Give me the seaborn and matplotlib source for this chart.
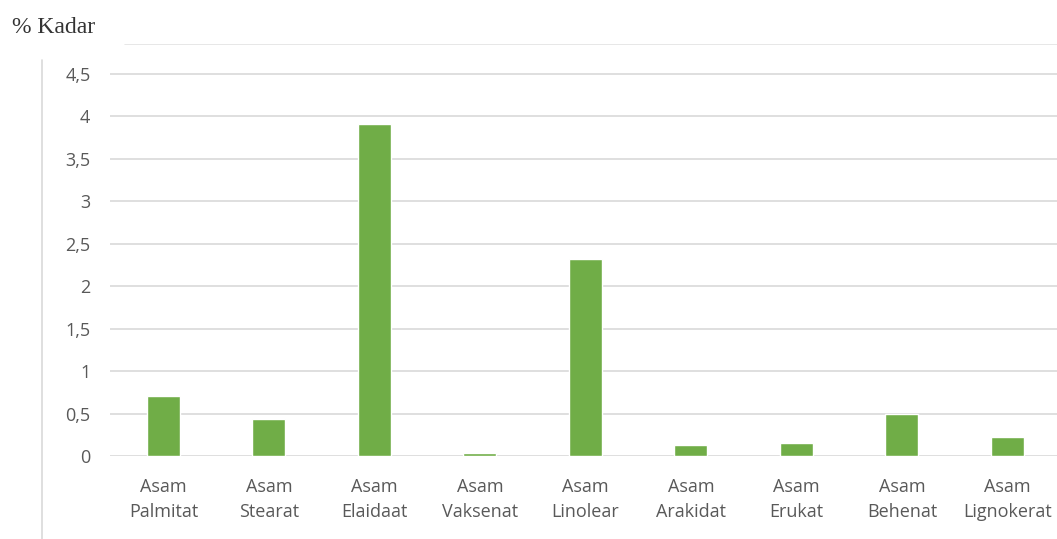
import pandas as pd
import seaborn as sns
import matplotlib.pyplot as plt
from matplotlib.lines import Line2D

# data
asam = ["Asam\nPalmitat", "Asam\nStearat", "Asam\nElaidaat", "Asam\nVaksenat", "Asam\nLinolear",
        "Asam\nArakidat", "Asam\nErukat", "Asam\nBehenat", "Asam\nLignokerat"]
kadar = [0.71, 0.44, 3.91, 0.04, 2.32, 0.13, 0.15, 0.50, 0.22]
yticks = [0, 0.5, 1, 1.5, 2, 2.5, 3, 3.5, 4, 4.5]
ytick_labels = ["0", "0,5", "1", "1,5", "2", "2,5", "3", "3,5", "4", "4,5"]

df = pd.DataFrame({"asam": asam, "kadar": kadar})

sns.set_style("white")
plt.rcParams["font.family"] = ["Open Sans", "DejaVu Sans"]

fig = plt.figure(figsize=(10.57, 5.39), dpi=100)
ax = fig.add_axes([0.104, 0.154, 0.896, 0.764])

sns.barplot(data=df, x="asam", y="kadar", color="#70AD47", width=0.313, saturation=1, ax=ax, zorder=3)

ax.set_ylim(0, 4.85)
ax.set_xlim(-0.507, 8.47)
ax.set_yticks(yticks)
ax.set_yticklabels(ytick_labels)
for y in yticks:
    ax.axhline(y, color="#D9D9D9", lw=1.2, zorder=1)
ax.axhline(4.85, xmin=0.016, color="#E3E3E3", lw=1.2, zorder=1)

ax.set_xlabel("")
ax.set_ylabel("")
ax.tick_params(axis="both", length=0, colors="#595959", labelsize=13)
ax.tick_params(axis="y", pad=14)
ax.tick_params(axis="x", pad=16)
for lbl in ax.get_xticklabels():
    lbl.set_linespacing(1.45)
for s in ax.spines.values():
    s.set_visible(False)

# outer frame line on the left and title text
fig.add_artist(Line2D([0.0397, 0.0397], [0, 0.889], color="#D9D9D9", lw=1.2))
fig.text(0.011, 0.939, "% Kadar", family="Liberation Serif", fontsize=17, color="#333333", va="baseline")

plt.savefig("out.png", dpi=100, facecolor="white")
plt.close()
